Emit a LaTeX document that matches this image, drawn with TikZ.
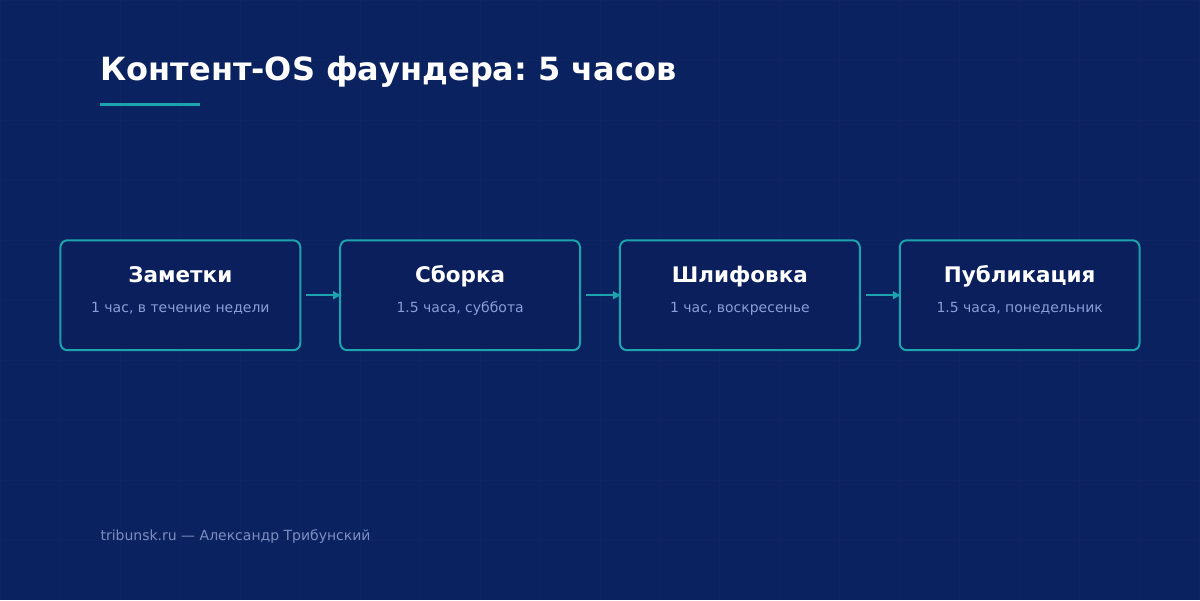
\documentclass[tikz,border=0pt]{standalone}
\usepackage{fontspec}
\setmainfont{DejaVu Sans}
\usetikzlibrary{arrows.meta}
\frenchspacing
\definecolor{bgnavy}{HTML}{0B2260}
\definecolor{boxnavy}{HTML}{0A1F5C}
\definecolor{tealline}{HTML}{1CA3AE}
\definecolor{softblue}{HTML}{8A9FD6}

\begin{document}
\begin{tikzpicture}[>={Latex[length=9pt,width=9pt]}, x=1pt, y=-1pt]
    \tikzstyle{boxed}=[draw=tealline, line width=2pt, fill=boxnavy,
      minimum width=240pt, minimum height=110pt, rounded corners=7pt]
    \tikzstyle{head}=[anchor=base, inner sep=0, text=white,
      font=\fontsize{21.5}{26}\selectfont\bfseries]
    \tikzstyle{sub}=[anchor=base, inner sep=0, text=softblue,
      font=\fontsize{14}{17}\selectfont]
    % background with faint grid
    \fill[bgnavy] (0,0) rectangle (1200,600);
    \draw[white, opacity=0.015, line width=1pt, step=60pt] (0,0) grid (1200,600);
    % title
    \node[anchor=base west, inner sep=0, text=white,
      font=\fontsize{32}{38}\selectfont\bfseries] (T) at (100,80)
      {Контент-OS фаундера: 5 часов};
    \draw[tealline, line width=3pt] (100,104) -- (200,104);
    % steps
    \draw (180,295)  node[boxed] (S1) {};
    \draw (460,295)  node[boxed] (S2) {};
    \draw (740,295)  node[boxed] (S3) {};
    \draw (1020,295) node[boxed] (S4) {};
    \node[head] (H1) at (180,282) {Заметки};
    \node[head] (H2) at (460,282) {Сборка};
    \node[head] (H3) at (740,282) {Шлифовка};
    \node[head] (H4) at (1020,282) {Публикация};
    \node[sub] (D1) at (180,312) {1 час, в течение недели};
    \node[sub] (D2) at (460,312) {1.5 часа, суббота};
    \node[sub] (D3) at (740,312) {1 час, воскресенье};
    \node[sub] (D4) at (1020,312) {1.5 часа, понедельник};
    \draw[->, tealline, line width=2pt] ([xshift=5pt]S1.east) -- ([xshift=3pt]S2.west);
    \draw[->, tealline, line width=2pt] ([xshift=5pt]S2.east) -- ([xshift=3pt]S3.west);
    \draw[->, tealline, line width=2pt] ([xshift=5pt]S3.east) -- ([xshift=3pt]S4.west);
    % footer
    \node[anchor=base west, inner sep=0, text=softblue!90!black,
      font=\fontsize{14}{17}\selectfont] (F) at (100,540)
      {tribunsk.ru — Александр Трибунский};
  \end{tikzpicture}
\end{document}
